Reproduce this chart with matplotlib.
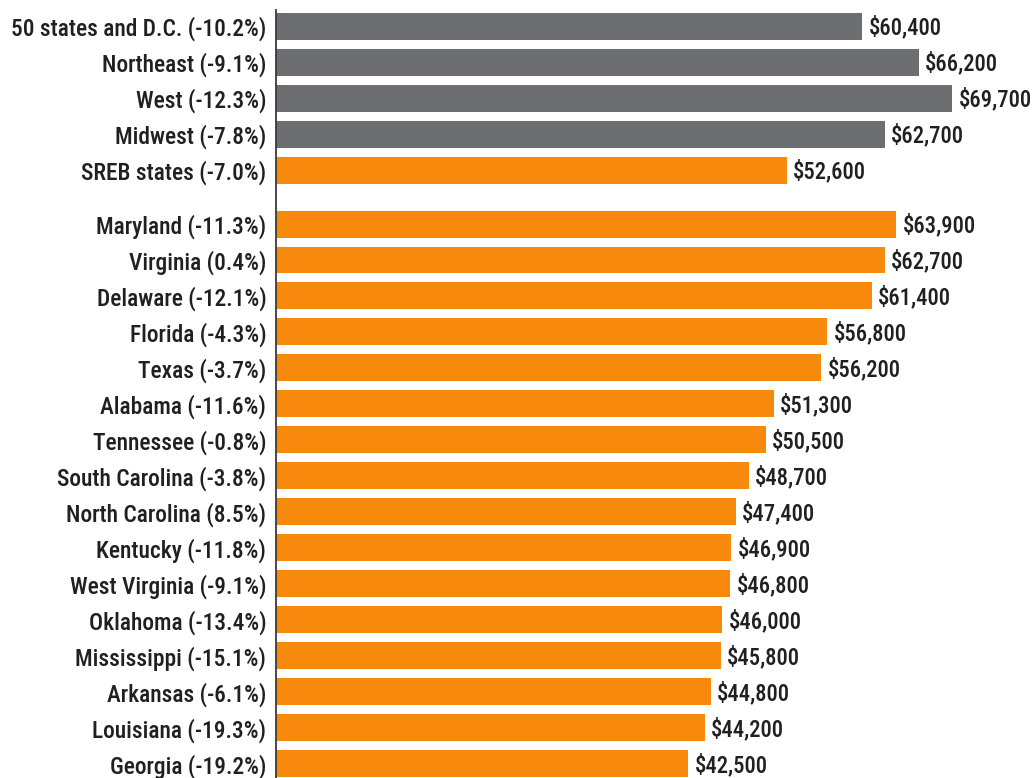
import matplotlib
matplotlib.use("Agg")
import matplotlib.pyplot as plt

GRAY = "#6d6e71"
ORANGE = "#f78a0c"
TEXT = "#231f20"

plt.rcParams["font.family"] = ["Roboto Condensed", "DejaVu Sans"]
plt.rcParams["font.weight"] = 500

labels = [
    "50 states and D.C. (-10.2%)", "Northeast (-9.1%)", "West (-12.3%)",
    "Midwest (-7.8%)", "SREB states (-7.0%)",
    "Maryland (-11.3%)", "Virginia (0.4%)", "Delaware (-12.1%)",
    "Florida (-4.3%)", "Texas (-3.7%)", "Alabama (-11.6%)",
    "Tennessee (-0.8%)", "South Carolina (-3.8%)", "North Carolina (8.5%)",
    "Kentucky (-11.8%)", "West Virginia (-9.1%)", "Oklahoma (-13.4%)",
    "Mississippi (-15.1%)", "Arkansas (-6.1%)", "Louisiana (-19.3%)",
    "Georgia (-19.2%)",
]
salaries = [
    60400, 66200, 69700, 62700, 52600,
    63900, 62700, 61400, 56800, 56200, 51300, 50500, 48700, 47400,
    46900, 46800, 46000, 45800, 44800, 44200, 42500,
]
n_regions = 4  # first rows drawn in gray

# row positions: a gap of half a row after the SREB states summary
ypos = [i if i < 5 else i + 0.5 for i in range(len(labels))]
colors = [GRAY if i < n_regions else ORANGE for i in range(len(labels))]

fig = plt.figure(figsize=(10.34, 7.78), dpi=100)
ax = fig.add_axes([0.2669, 0.0, 0.7331, 1 - 10 / 778])

ax.barh(ypos, salaries, height=0.75, color=colors, linewidth=0)

for y, v in zip(ypos, salaries):
    ax.annotate(f"${v:,}", xy=(v, y), xytext=(4.5, -1), textcoords="offset points",
                ha="left", va="center", fontsize=16.3, color=TEXT)

ax.set_yticks(ypos)
ax.set_yticklabels(labels, fontsize=16.8, color=TEXT)
ax.tick_params(axis="y", length=0, pad=7)
ax.set_xticks([])
ax.set_xlim(0, 78100)
ax.set_ylim(20.9, -0.45)

for s in ["top", "right", "bottom"]:
    ax.spines[s].set_visible(False)
ax.spines["left"].set_color("#3a3a3a")
ax.spines["left"].set_linewidth(1.3)

fig.savefig("out.png", dpi=100)
